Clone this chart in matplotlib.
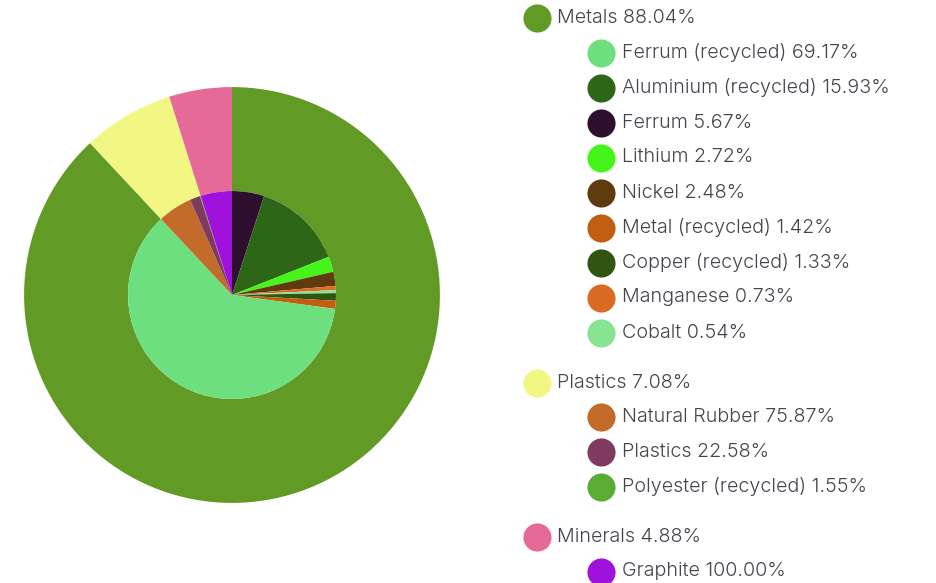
import numpy as np
import matplotlib.pyplot as plt

# Top-level groups (outer ring)
groups = ['Metals', 'Plastics', 'Minerals']
group_pct = [88.04, 7.08, 4.88]
group_colors = ['#629a26', '#f2f784', '#e56a98']

# Sub-items, share within their group (legend order)
metal_names = ['Ferrum (recycled)', 'Aluminium (recycled)', 'Ferrum', 'Lithium', 'Nickel',
               'Metal (recycled)', 'Copper (recycled)', 'Manganese', 'Cobalt']
metal_pct = [69.17, 15.93, 5.67, 2.72, 2.48, 1.42, 1.33, 0.73, 0.54]
metal_colors = ['#6ddf7e', '#2e6618', '#2f0f2e', '#45f51a', '#5e3a0d',
                '#c25e10', '#2f5510', '#db6a22', '#86e493']
# order the slices appear clockwise from 12 o'clock
metal_draw = [2, 1, 3, 4, 7, 8, 6, 5, 0]

plastic_names = ['Natural Rubber', 'Plastics', 'Polyester (recycled)']
plastic_pct = [75.87, 22.58, 1.55]
plastic_colors = ['#c36b2b', '#7f3a60', '#5aad33']

mineral_names = ['Graphite']
mineral_pct = [100.00]
mineral_colors = ['#a012dc']

W, H = 936, 583
fig = plt.figure(figsize=(W / 100, H / 100), dpi=100)

# pie axes, centre (232, 295) px, radius 210 px
cx, cy, R = 232, 295, 210
ax = fig.add_axes([(cx - R) / W, (H - cy - R) / H, 2 * R / W, 2 * R / H])
ax.set_aspect('equal')

ax.pie(group_pct, colors=group_colors, radius=1.0, startangle=90, counterclock=False,
       wedgeprops=dict(width=0.5, linewidth=0))

inner_vals, inner_cols = [], []
for i in metal_draw:
    inner_vals.append(group_pct[0] * metal_pct[i] / 100)
    inner_cols.append(metal_colors[i])
for p, c in zip(plastic_pct, plastic_colors):
    inner_vals.append(group_pct[1] * p / 100)
    inner_cols.append(c)
for p, c in zip(mineral_pct, mineral_colors):
    inner_vals.append(group_pct[2] * p / 100)
    inner_cols.append(c)

ax.pie(inner_vals, colors=inner_cols, radius=0.5, startangle=90, counterclock=False,
       wedgeprops=dict(linewidth=0))
ax.set_xlim(-1.01, 1.01)
ax.set_ylim(-1.01, 1.01)

# legend drawn in pixel coordinates
lg = fig.add_axes([0, 0, 1, 1])
lg.set_xlim(0, W)
lg.set_ylim(H, 0)
lg.axis('off')

txt = dict(fontsize=14.2, color='#44444e', va='center', fontweight=300,
           family=['Inter', 'DejaVu Sans'])
y = 18
for g, gp, gc, names, pcts, cols in [
        (groups[0], group_pct[0], group_colors[0], metal_names, metal_pct, metal_colors),
        (groups[1], group_pct[1], group_colors[1], plastic_names, plastic_pct, plastic_colors),
        (groups[2], group_pct[2], group_colors[2], mineral_names, mineral_pct, mineral_colors)]:
    lg.scatter([537], [y], s=410, color=gc, linewidths=0)
    lg.text(557, y, f'{g} {gp:.2f}%', **txt)
    y += 34.5
    for n, p, c in zip(names, pcts, cols):
        lg.scatter([601], [y], s=410, color=c, linewidths=0)
        lg.text(622, y, f'{n} {p:.2f}%', **txt)
        y += 35
    y += 15

fig.savefig('out.png', dpi=100)
